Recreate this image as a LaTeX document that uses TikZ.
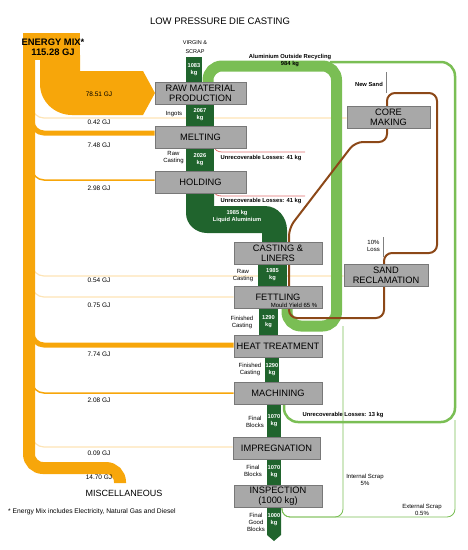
\documentclass[tikz,border=0pt]{standalone}
\usepackage{fontspec}
\setmainfont{Liberation Sans}
\usetikzlibrary{backgrounds}
\definecolor{mixorange}{RGB}{247,166,10}
\definecolor{metalgreen}{RGB}{32,100,45}
\definecolor{recyclegreen}{RGB}{122,190,84}
\definecolor{sandbrown}{RGB}{140,72,24}
\definecolor{boxfill}{RGB}{168,168,168}
\definecolor{boxedge}{RGB}{120,120,120}
\definecolor{losspink}{RGB}{225,110,110}

\begin{document}
\begin{tikzpicture}[
    x=1pt, y=-1pt,
    % --- STYLES ---
    process/.style={draw=boxedge, fill=boxfill, line width=0.6pt, minimum height=22pt, inner sep=0pt, align=center, font=\fontsize{9.3}{10}\selectfont},
    energy_flow/.style={draw=mixorange, rounded corners=12pt},
    energy_faint/.style={draw=mixorange!30, line width=1.2pt, rounded corners=12pt},
    metal_flow/.style={fill=metalgreen},
    recycle_flow/.style={draw=recyclegreen, rounded corners=14pt},
    sand_flow/.style={draw=sandbrown, line width=2pt, rounded corners=8pt},
    loss_line/.style={draw=losspink, line width=0.8pt},
    guide_line/.style={draw=gray, line width=0.5pt},
    label_text/.style={font=\fontsize{6}{7}\selectfont, align=center, inner sep=0pt},
    gj_text/.style={font=\fontsize{6.5}{7}\selectfont, inner sep=0pt},
    bold_text/.style={font=\fontsize{5.8}{7}\selectfont\bfseries, align=center, inner sep=0pt},
    stem_text/.style={font=\fontsize{5.7}{7}\selectfont\bfseries, text=white, align=center, inner sep=0pt}
]
\useasboundingbox (0,0) rectangle (467,550);

% --- 1. PROCESS BOXES ---
\node[process, minimum width=91pt] (RM) at (200.5,93) {RAW MATERIAL\\PRODUCTION};
\node[process, minimum width=91pt] (MELT) at (200.5,137) {MELTING};
\node[process, minimum width=91pt] (HOLD) at (200.5,182) {HOLDING};
\node[process, minimum width=88pt] (CAST) at (278,253.5) {CASTING \&\\LINERS};
\node[process, minimum width=88pt] (FETT) at (278,297) {FETTLING};
\node[process, minimum width=88pt] (HEAT) at (278,346) {HEAT TREATMENT};
\node[process, minimum width=88pt] (MACH) at (278,393) {MACHINING};
\node[process, minimum width=87pt] (IMPR) at (276.5,448) {IMPREGNATION};
\node[process, minimum width=88pt] (INSP) at (278,496) {INSPECTION\\(1000 kg)};
\node[process, minimum width=83pt] (CORE) at (388.5,117) {CORE\\MAKING};
\node[process, minimum width=84pt] (SAND) at (386,275.5) {SAND\\RECLAMATION};

% --- 2. FLOWS (behind the boxes) ---
\begin{scope}[on background layer]
% energy branches
\foreach \y/\tgt in {118/CORE, 276/SAND, 297/FETT, 447/IMPR} {
    \draw[energy_faint] (32,\y-20) -- (32,\y) -- (\tgt.west |- 0,\y);
}
\foreach \y/\w/\tgt in {133/5pt/MELT, 180/1.5pt/HOLD, 345/5pt/HEAT, 393/1.5pt/MACH} {
    \draw[energy_flow, line width=\w] (32,\y-20) -- (32,\y) -- (\tgt.west |- 0,\y);
}
% energy mix trunk and raw material arrow
\fill[mixorange] (23,33) rectangle (80,60);
\draw[energy_flow, line width=12pt, rounded corners=14pt] (29,40) -- (29,468) -- (120,468) -- (120,483);
\fill[mixorange] (40,55) -- (80,55) -- (80,71) -- (143,71) -- (155,93) -- (143,115) -- (72,115) to[out=180, in=-90] (40,84) -- cycle;

% scrap lines
\draw[recycle_flow, line width=2.5pt] (284,395) -- (284,422) -- (455,422) -- (455,62) -- (330,62);
\draw[recycle_flow, line width=0.8pt, rounded corners=8pt] (282,500) -- (282,517) -- (455,517) -- (455,420);
\draw[recycle_flow, line width=0.8pt, rounded corners=8pt] (282,500) -- (282,517) -- (343,517) -- (343,326);
% aluminium outside recycling
\draw[recycle_flow, line width=11pt] (287,298) -- (287,326) -- (336.5,326) -- (336.5,66) -- (208,66) -- (208,92);

% sand loop
\draw[sand_flow] (384,270) -- (384,253) -- (437,253) -- (437,93) -- (387,93) -- (387,142) -- (355,142) -- (289,228) -- (289,318) -- (384,318) -- (384,280);
\draw[guide_line] (386,72) -- (386,93);
\draw[guide_line] (383,237) -- (383,257);

% metal stems
\foreach \xa/\ya/\xb/\yb/\val [count=\i] in {186/57/202/82/1083, 186/104/214/126/2067, 186/148/214/172/2026, 258/264/287/286/1985, 259/308/278/335/1290, 265/357/279/382/1290, 267/404/281/437/1070, 267/459/281/485/1070} {
    \fill[metal_flow] (\xa,\ya) rectangle (\xb,\yb);
    \node[stem_text] (stem\i) at ({(\xa+\xb)/2},{(\ya+\yb)/2}) {\val\\kg};
}
\fill[metal_flow] (267,507) -- (281,507) -- (281,535) -- (274,541) -- (267,535) -- cycle;
\node[stem_text] (stemout) at (274,520) {1000\\kg};
\fill[metal_flow] (186,193) -- (214,193) -- (214,206) -- (265,206) to[out=0, in=90] (287,230) -- (287,243) -- (262,243) -- (262,233) -- (207,233) to[out=180, in=-90] (186,213) -- cycle;
\node[stem_text] (liquid) at (237,217) {1985 kg\\Liquid Aluminium};

% losses
\draw[loss_line] (214,146) to[out=-90, in=180] (222,152) -- (305,152);
\draw[loss_line] (214,191) to[out=-90, in=180] (222,196) -- (305,196);
\end{scope}

% --- 3. LABELS ---
\node[font=\fontsize{9.5}{11}\selectfont] (title) at (220,21) {LOW PRESSURE DIE CASTING};
\node[font=\fontsize{9.4}{10}\selectfont\bfseries, align=center, inner sep=0pt] (mix) at (53,47) {ENERGY MIX*\\115.28 GJ};
\foreach \y/\val [count=\i] in {94/78.51, 122/0.42, 145/7.48, 188/2.98, 280/0.54, 305/0.75, 354/7.74, 400/2.08, 453/0.09, 477/14.70} {
    \node[gj_text] (gj\i) at (99,\y) {\val~GJ};
}
\node[font=\fontsize{9}{10}\selectfont, inner sep=0pt] (misc) at (124,493) {MISCELLANEOUS};
\node[font=\fontsize{6.7}{7}\selectfont, anchor=west, inner sep=0pt] (note) at (8,512) {* Energy Mix includes Electricity, Natural Gas and Diesel};

\node[font=\fontsize{5.5}{8.5}\selectfont, align=center, inner sep=0pt] (virgin) at (195,47) {VIRGIN \&\\SCRAP};
\foreach \x/\y/\txt [count=\i] in {174/114/Ingots, 173.5/158/Raw\\Casting, 243/275.5/Raw\\Casting, 242/322.5/Finished\\Casting, 250/369.5/Finished\\Casting, 255/421.5/Final\\Blocks, 253/470.5/Final\\Blocks, 256/522/Final\\Good\\Blocks} {
    \node[label_text] (side\i) at (\x,\y) {\txt};
}
\node[bold_text] (loss1) at (261,158) {Unrecoverable Losses: 41 kg};
\node[bold_text] (loss2) at (261,201) {Unrecoverable Losses: 41 kg};
\node[bold_text] (loss3) at (343,415) {Unrecoverable Losses: 13 kg};
\node[bold_text] (outside) at (290,60.5) {Aluminium Outside Recycling\\984 kg};
\node[label_text] (yield) at (294,305) {Mould Yield 65 \%};
\node[bold_text, anchor=east] (newsand) at (383,84) {New Sand};
\node[label_text, anchor=east] (sandloss) at (380,245.5) {10\%\\Loss};
\node[label_text] (internal) at (365,479.5) {Internal Scrap\\5\%};
\node[label_text] (external) at (422,509.5) {External Scrap\\0.5\%};

\end{tikzpicture}
\end{document}
